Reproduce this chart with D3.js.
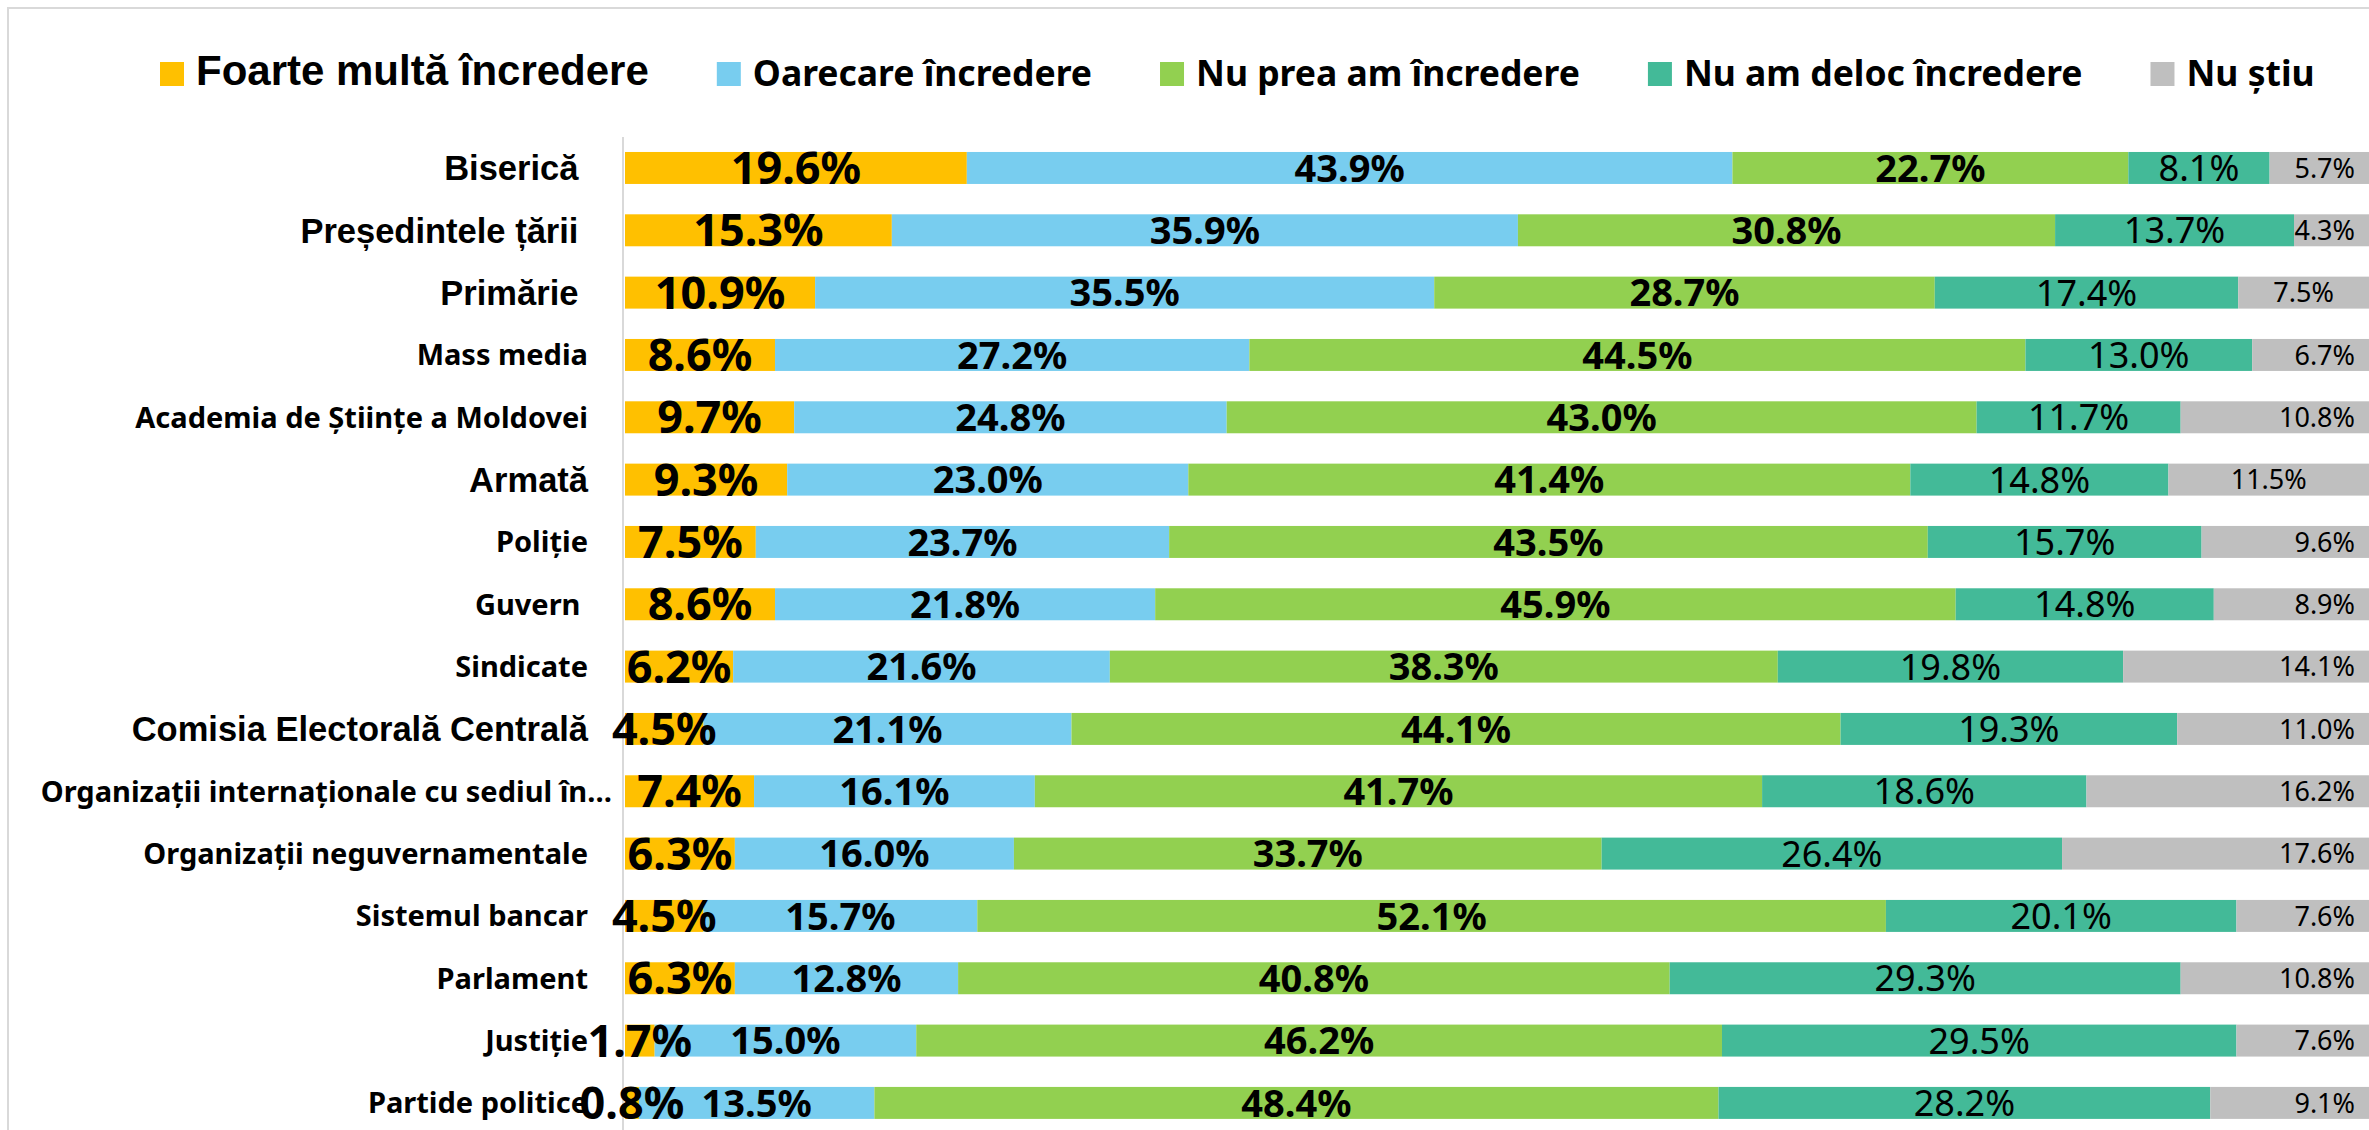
<!DOCTYPE html>
<html>
<head>
<meta charset="utf-8">
<script src="https://cdn.jsdelivr.net/npm/d3@7"></script>
<style>
    body { margin: 0; background: #fff; overflow: hidden; }
    text { white-space: pre; }
</style>
</head>
<body>
<div id="chart"></div>
<script>
// Data_____________________________________________
const categories = ["Biserică ", "Președintele țării ", "Primărie ", "Mass media",
    "Academia de Științe a Moldovei", "Armată", "Poliție", "Guvern ", "Sindicate",
    "Comisia Electorală Centrală", "Organizații internaționale cu sediul în…",
    "Organizații neguvernamentale", "Sistemul bancar", "Parlament", "Justiție", "Partide politice"];

const seriesNames = ["Foarte multă încredere", "Oarecare încredere", "Nu prea am încredere",
    "Nu am deloc încredere", "Nu știu"];

const foarte   = [19.6, 15.3, 10.9, 8.6, 9.7, 9.3, 7.5, 8.6, 6.2, 4.5, 7.4, 6.3, 4.5, 6.3, 1.7, 0.8];
const oarecare = [43.9, 35.9, 35.5, 27.2, 24.8, 23.0, 23.7, 21.8, 21.6, 21.1, 16.1, 16.0, 15.7, 12.8, 15.0, 13.5];
const nuPrea   = [22.7, 30.8, 28.7, 44.5, 43.0, 41.4, 43.5, 45.9, 38.3, 44.1, 41.7, 33.7, 52.1, 40.8, 46.2, 48.4];
const deloc    = [8.1, 13.7, 17.4, 13.0, 11.7, 14.8, 15.7, 14.8, 19.8, 19.3, 18.6, 26.4, 20.1, 29.3, 29.5, 28.2];
const nuStiu   = [5.7, 4.3, 7.5, 6.7, 10.8, 11.5, 9.6, 8.9, 14.1, 11.0, 16.2, 17.6, 7.6, 10.8, 7.6, 9.1];

// Styles___________________________________________
const width = 2369;
const height = 1130;
const colors = ['#FFC000', '#78CDEF', '#92D050', '#43BA98', '#BFBFBF'];
const labelStyle = [
    {size: 45, weight: 'bold'},
    {size: 38, weight: 'bold'},
    {size: 38, weight: 'bold'},
    {size: 36, weight: 'normal'},
    {size: 27, weight: 'normal'}
];
const arialLabels = ["Biserică ", "Președintele țării ", "Primărie ", "Armată", "Comisia Electorală Centrală"];
const centeredGrey = ["Primărie ", "Armată"];
const sansFont = '"Noto Sans", "Open Sans", sans-serif';
const arialFont = '"Liberation Sans", Arial, sans-serif';

const rows = categories.map((c, i) => ({
    cat: c, s0: foarte[i], s1: oarecare[i], s2: nuPrea[i], s3: deloc[i], s4: nuStiu[i]
}));
const keys = ['s0', 's1', 's2', 's3', 's4'];
const stacked = d3.stack().keys(keys)(rows);

// Scales___________________________________________
const step = 62.33;
const xScale = d3.scaleLinear().domain([0, 100]).range([625, 2369]);
const yScale = d3.scaleBand()
    .domain(categories)
    .range([136.8, 136.8 + step * categories.length])
    .paddingInner(0.487)
    .paddingOuter(0.2435);

const svg = d3.select('#chart')
    .append('svg')
    .attr('width', width)
    .attr('height', height)
    .style('display', 'block');

// frame
svg.append('rect')
    .attr('x', 8).attr('y', 8)
    .attr('width', width + 20).attr('height', height + 20)
    .attr('fill', 'none')
    .attr('stroke', '#d9d9d9')
    .attr('stroke-width', 2);

// Bars_____________________________________________
const layers = svg.selectAll('g.layer')
    .data(stacked)
    .enter()
    .append('g')
    .attr('class', 'layer')
    .attr('fill', (d, i) => colors[i]);

layers.selectAll('rect')
    .data(d => d)
    .enter()
    .append('rect')
    .attr('x', d => xScale(d[0]))
    .attr('y', d => yScale(d.data.cat))
    .attr('width', d => xScale(d[1]) - xScale(d[0]))
    .attr('height', yScale.bandwidth());

// y axis line
svg.append('line')
    .attr('x1', 623).attr('x2', 623)
    .attr('y1', 137).attr('y2', height)
    .attr('stroke', '#d9d9d9')
    .attr('stroke-width', 2);

// Category labels__________________________________
svg.append('g')
    .selectAll('text')
    .data(categories)
    .enter()
    .append('text')
    .attr('x', d => d.endsWith('…') ? 612 : 588)
    .attr('y', d => yScale(d) + yScale.bandwidth() / 2)
    .attr('dy', '0.36em')
    .attr('text-anchor', 'end')
    .style('font-family', d => arialLabels.includes(d) ? arialFont : sansFont)
    .style('font-size', d => arialLabels.includes(d) ? '34.5px' : '29px')
    .style('font-weight', 'bold')
    .attr('fill', '#000')
    .text(d => d);

// Value labels_____________________________________
stacked.forEach((layer, i) => {
    svg.append('g')
        .selectAll('text')
        .data(layer)
        .enter()
        .append('text')
        .attr('x', d => {
            if (i === 4 && !centeredGrey.includes(d.data.cat)) return xScale(100) - 14;
            return (xScale(d[0]) + xScale(d[1])) / 2;
        })
        .attr('text-anchor', d => (i === 4 && !centeredGrey.includes(d.data.cat)) ? 'end' : 'middle')
        .attr('y', d => yScale(d.data.cat) + yScale.bandwidth() / 2)
        .attr('dy', '0.36em')
        .style('font-family', sansFont)
        .style('font-size', labelStyle[i].size + 'px')
        .style('font-weight', labelStyle[i].weight)
        .attr('fill', '#000')
        .text(d => d3.format('.1f')(d[1] - d[0]) + '%');
});

// Legend___________________________________________
const legend = svg.append('g').attr('class', 'legend');
let lx = 160;
seriesNames.forEach((name, i) => {
    legend.append('rect')
        .attr('x', lx).attr('y', 62)
        .attr('width', 24).attr('height', 24)
        .attr('fill', colors[i]);
    const t = legend.append('text')
        .attr('x', lx + 36)
        .attr('y', i === 0 ? 85 : 86)
        .style('font-family', i === 0 ? arialFont : sansFont)
        .style('font-size', i === 0 ? '42px' : '35.5px')
        .style('font-weight', 'bold')
        .attr('fill', '#000')
        .text(name);
    lx += 36 + t.node().getComputedTextLength() + 68;
});
</script>
</body>
</html>
